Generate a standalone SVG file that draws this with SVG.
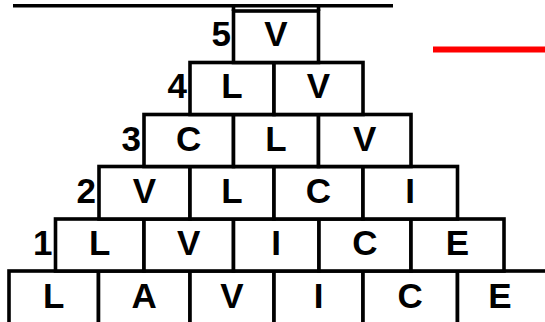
<svg xmlns="http://www.w3.org/2000/svg" width="545" height="322" viewBox="0 0 545 322">
<style>
.c{fill:#fff;stroke:#000;stroke-width:3.6}
.ln{stroke:#000;stroke-width:3.6;fill:none}
.t{font-family:"Liberation Sans",Arial,sans-serif;font-weight:bold;font-size:35px;fill:#000;text-anchor:middle}
.n{font-family:"Liberation Sans",Arial,sans-serif;font-weight:bold;font-size:35px;fill:#000;text-anchor:end}
</style>
<rect width="545" height="322" fill="#fff"/>
<g id="connectors">
<line class="ln" x1="13" y1="5.7" x2="393" y2="5.7"/>
<line class="ln" x1="233.5" y1="5.7" x2="233.5" y2="11"/>
<line class="ln" x1="318.5" y1="5.7" x2="318.5" y2="11"/>
<rect x="433" y="46.5" width="112" height="6" fill="#f00"/>
</g>
<g id="row0">
<g id="r0c1"><rect class="c" x="9" y="271" width="89.5" height="70"/><text class="t" x="53.7" y="308">L</text></g>
<g id="r0c2"><rect class="c" x="98.5" y="271" width="91.5" height="70"/><text class="t" x="144.2" y="308">A</text></g>
<g id="r0c3"><rect class="c" x="190" y="271" width="84" height="70"/><text class="t" x="232" y="308">V</text></g>
<g id="r0c4"><rect class="c" x="274" y="271" width="89" height="70"/><text class="t" x="318.5" y="308">I</text></g>
<g id="r0c5"><rect class="c" x="363" y="271" width="94.5" height="70"/><text class="t" x="410.2" y="308">C</text></g>
<g id="r0c6"><rect class="c" x="457.5" y="271" width="95" height="70"/><text class="t" x="500" y="308">E</text></g>
</g>
<g id="row1">
<text class="n" x="52.5" y="255">1</text>
<g id="r1c1"><rect class="c" x="55.5" y="219" width="88.5" height="52"/><text class="t" x="99.7" y="255">L</text></g>
<g id="r1c2"><rect class="c" x="144" y="219" width="89.5" height="52"/><text class="t" x="188.7" y="255">V</text></g>
<g id="r1c3"><rect class="c" x="233.5" y="219" width="85.5" height="52"/><text class="t" x="276.2" y="255">I</text></g>
<g id="r1c4"><rect class="c" x="319" y="219" width="92" height="52"/><text class="t" x="365" y="255">C</text></g>
<g id="r1c5"><rect class="c" x="411" y="219" width="93" height="52"/><text class="t" x="457.5" y="255">E</text></g>
</g>
<g id="row2">
<text class="n" x="96" y="203">2</text>
<g id="r2c1"><rect class="c" x="99" y="166.5" width="91" height="52.5"/><text class="t" x="144.5" y="203">V</text></g>
<g id="r2c2"><rect class="c" x="190" y="166.5" width="84" height="52.5"/><text class="t" x="232" y="203">L</text></g>
<g id="r2c3"><rect class="c" x="274" y="166.5" width="89" height="52.5"/><text class="t" x="318.5" y="203">C</text></g>
<g id="r2c4"><rect class="c" x="363" y="166.5" width="94.5" height="52.5"/><text class="t" x="410.2" y="203">I</text></g>
</g>
<g id="row3">
<text class="n" x="141" y="151">3</text>
<g id="r3c1"><rect class="c" x="144" y="114.5" width="89.5" height="52"/><text class="t" x="188.7" y="151">C</text></g>
<g id="r3c2"><rect class="c" x="233.5" y="114.5" width="85" height="52"/><text class="t" x="276" y="151">L</text></g>
<g id="r3c3"><rect class="c" x="318.5" y="114.5" width="92.5" height="52"/><text class="t" x="364.7" y="151">V</text></g>
</g>
<g id="row4">
<text class="n" x="187" y="98">4</text>
<g id="r4c1"><rect class="c" x="190" y="62.5" width="84" height="52"/><text class="t" x="232" y="98">L</text></g>
<g id="r4c2"><rect class="c" x="274" y="62.5" width="89" height="52"/><text class="t" x="318.5" y="98">V</text></g>
</g>
<g id="row5">
<text class="n" x="231" y="46">5</text>
<g id="r5c1"><rect class="c" x="233.5" y="11" width="85" height="51.5"/><text class="t" x="276" y="46">V</text></g>
</g>
</svg>
